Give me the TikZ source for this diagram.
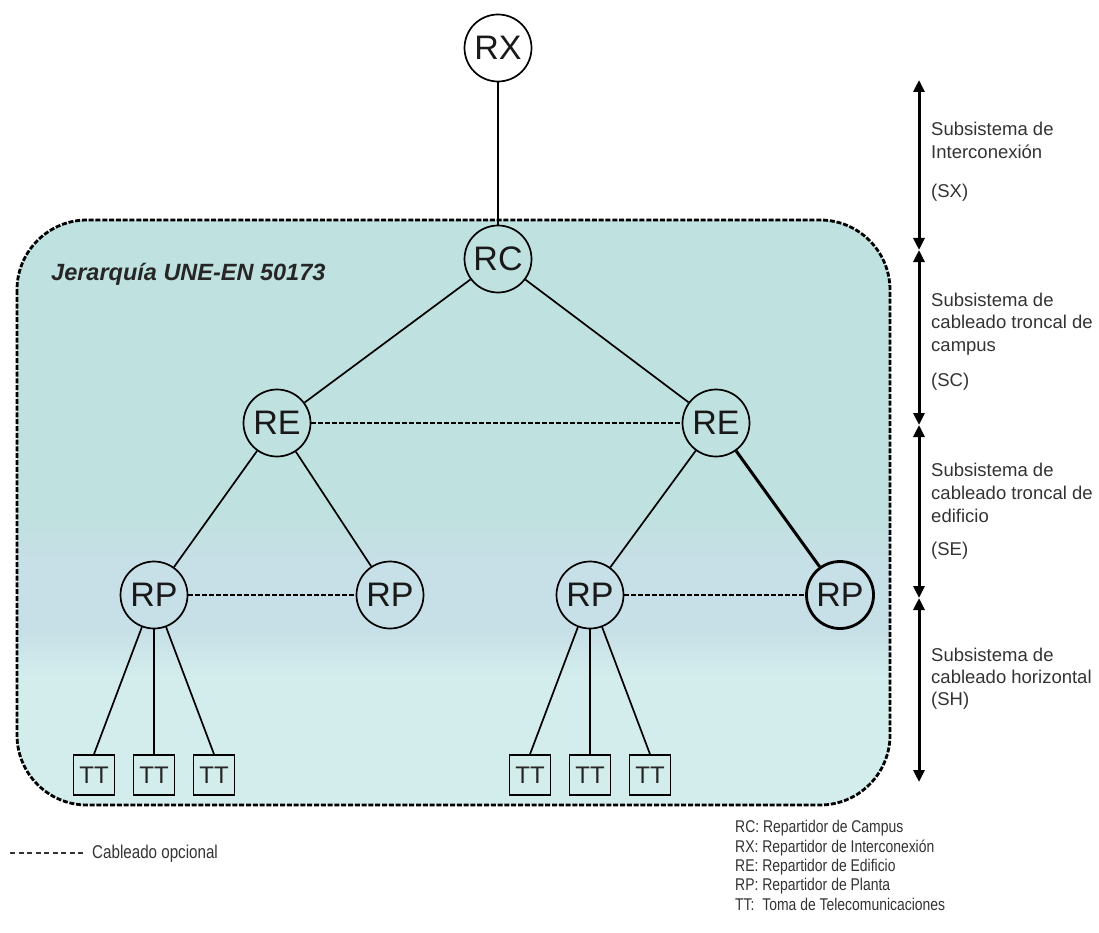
\documentclass[tikz,border=0pt]{standalone}
\usepackage{fontspec}
\setmainfont{Liberation Sans}
\newfontfamily\narrowfont[FakeStretch=0.82]{Liberation Sans}
\usetikzlibrary{arrows.meta}
\definecolor{boxtop}{HTML}{BFE1DF}
\definecolor{boxmid}{HTML}{C7DFE6}
\definecolor{boxbot}{HTML}{D3EDED}
\definecolor{txtgray}{HTML}{333333}
\pgfdeclareverticalshading{boxshade}{100bp}{color(0bp)=(boxbot); color(36bp)=(boxbot); color(40bp)=(boxmid); color(46bp)=(boxmid); color(50bp)=(boxtop); color(100bp)=(boxtop)}
\begin{document}
\begin{tikzpicture}[x=1pt,y=-1pt,
  dist/.style={circle,draw,line width=1.7pt,minimum size=67pt,inner sep=0pt,font=\fontsize{34}{34}\selectfont,text=black!90},
  distbold/.style={dist,line width=2.8pt},
  toma/.style={rectangle,draw,line width=1.6pt,minimum width=41pt,minimum height=40pt,inner sep=0pt,font=\fontsize{24}{24}\selectfont,text=black!85},
  link/.style={line width=1.7pt},
  linkbold/.style={line width=3pt},
  optlink/.style={line width=2.4pt,dash pattern=on 5pt off 2pt},
  boxborder/.style={line width=2.8pt,dash pattern=on 5pt off 1.8pt,rounded corners=70pt},
  lvl/.style={line width=3pt,{Triangle[length=12pt,width=11pt]}-{Triangle[length=12pt,width=11pt]}},
  lbl/.style={anchor=base west,text=txtgray,font=\fontsize{18.5}{18.5}\selectfont,inner sep=0pt},
  leg/.style={anchor=base west,text=txtgray,font=\narrowfont\fontsize{17}{17}\selectfont,inner sep=0pt},
]
\useasboundingbox (0,0) rectangle (1099,933);

% hierarchy box
\shade[shading=boxshade,rounded corners=70pt] (17,220) rectangle (890,805);
\draw[boxborder] (17,220) rectangle (890,805);
\node[anchor=base west,inner sep=0pt,font=\bfseries\itshape\fontsize{23.5}{23.5}\selectfont,text=black!85] (title) at (51,280) {Jerarquía UNE-EN 50173};

% nodes
\node[dist] (RX) at (498,48) {RX};
\node[dist] (RC) at (498,259) {RC};
\node[dist] (REa) at (277,423) {RE};
\node[dist] (REb) at (716,423) {RE};
\node[dist] (RP1) at (154,595) {RP};
\node[dist] (RP2) at (390,595) {RP};
\node[dist] (RP3) at (590,595) {RP};
\node[distbold] (RP4) at (840,595) {RP};
\node[toma] (T1) at (94,775) {TT};
\node[toma] (T2) at (154,775) {TT};
\node[toma] (T3) at (214,775) {TT};
\node[toma] (T4) at (530,775) {TT};
\node[toma] (T5) at (590,775) {TT};
\node[toma] (T6) at (650,775) {TT};

% connectors
\draw[link] (RX) -- (RC);
\draw[link] (RC) -- (REa);
\draw[link] (RC) -- (REb);
\draw[optlink] (REa) -- (REb);
\draw[link] (REa) -- (RP1);
\draw[link] (REa) -- (RP2);
\draw[link] (REb) -- (RP3);
\draw[linkbold] (REb) -- (RP4);
\draw[optlink] (RP1) -- (RP2);
\draw[optlink] (RP3) -- (RP4);
\draw[link] (RP1) -- (T1.north);
\draw[link] (RP1) -- (T2.north);
\draw[link] (RP1) -- (T3.north);
\draw[link] (RP3) -- (T4.north);
\draw[link] (RP3) -- (T5.north);
\draw[link] (RP3) -- (T6.north);

% level arrows
\coordinate (a0) at (919,80);
\coordinate (a1) at (919,250);
\coordinate (a2) at (919,425);
\coordinate (a3) at (919,598);
\coordinate (a4) at (919,782);
\draw[lvl] (a0) -- (a1);
\draw[lvl] (a1) -- (a2);
\draw[lvl] (a2) -- (a3);
\draw[lvl] (a3) -- (a4);

% level labels
\node[lbl] (sx1) at (931,136) {Subsistema de};
\node[lbl] (sx2) at (931,159) {Interconexión};
\node[lbl] (sx3) at (931,198) {(SX)};
\node[lbl] (sc1) at (931,306) {Subsistema de};
\node[lbl] (sc2) at (931,328) {cableado troncal de};
\node[lbl] (sc3) at (931,351) {campus};
\node[lbl] (sc4) at (931,386) {(SC)};
\node[lbl] (se1) at (931,476) {Subsistema de};
\node[lbl] (se2) at (931,499) {cableado troncal de};
\node[lbl] (se3) at (931,522) {edificio};
\node[lbl] (se4) at (931,555) {(SE)};
\node[lbl] (sh1) at (931,661) {Subsistema de};
\node[lbl] (sh2) at (931,683) {cableado horizontal};
\node[lbl] (sh3) at (931,705) {(SH)};

% legend
\node[leg,font=\narrowfont\fontsize{18.5}{18.5}\selectfont] (opt) at (92,858) {Cableado opcional};
\coordinate (optL) at (10,853);
\draw[line width=1.3pt,dash pattern=on 5pt off 3.5pt,txtgray] (optL) -- ([xshift=-6pt]opt.base west |- optL);
\node[leg] (l1) at (735,832) {RC: Repartidor de Campus};
\node[leg] (l2) at (735,852) {RX: Repartidor de Interconexión};
\node[leg] (l3) at (735,871) {RE: Repartidor de Edificio};
\node[leg] (l4) at (735,890) {RP: Repartidor de Planta};
\node[leg] (l5) at (735,910) {TT:\ \ Toma de Telecomunicaciones};
\end{tikzpicture}
\end{document}
